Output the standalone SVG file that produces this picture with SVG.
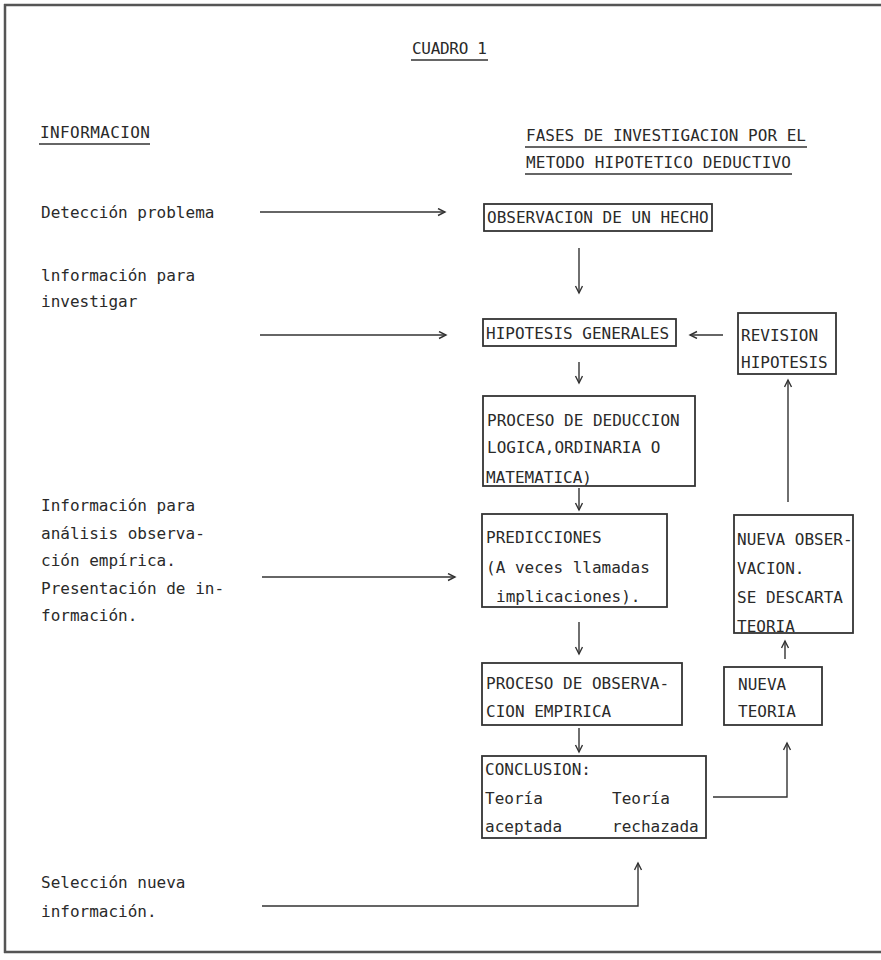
<svg xmlns="http://www.w3.org/2000/svg" width="881" height="960" viewBox="0 0 881 960">
<style>
text{font-family:"DejaVu Sans Mono","Liberation Mono",monospace;font-size:16px;fill:#2a2a2a}
.box{fill:none;stroke:#333;stroke-width:1.8}
.ln{fill:none;stroke:#333;stroke-width:1.4}
.ul{stroke:#333;stroke-width:1.6}
.frame{stroke:#555;stroke-width:2.5}
</style>
<defs>
<marker id="ah" markerWidth="10" markerHeight="10" refX="8" refY="4" orient="auto" markerUnits="userSpaceOnUse">
<path d="M1,0.5 L8,4 L1,7.5" fill="none" stroke="#333" stroke-width="1.4"/>
</marker>
</defs>
<rect x="0" y="0" width="881" height="960" fill="#fff"/>
<g id="frame">
<line class="frame" x1="4" y1="5" x2="881" y2="5"/>
<line class="frame" x1="5" y1="4" x2="5" y2="953"/>
<line class="frame" x1="4" y1="952" x2="881" y2="952"/>
</g>
<g id="titles">
<text x="412" y="54" textLength="75">CUADRO 1</text>
<line class="ul" x1="411" y1="60" x2="488" y2="60"/>
<text x="40" y="138" textLength="110">INFORMACION</text>
<line class="ul" x1="39" y1="144" x2="150" y2="144"/>
<text x="526" y="141" textLength="280">FASES DE INVESTIGACION POR EL</text>
<line class="ul" x1="525" y1="147" x2="807" y2="147"/>
<text x="526" y="168" textLength="265">METODO HIPOTETICO DEDUCTIVO</text>
<line class="ul" x1="525" y1="174" x2="792" y2="174"/>
</g>
<g id="info">
<text x="41" y="218">Detección problema</text>
<text x="41" y="281">lnformación para</text>
<text x="41" y="307">investigar</text>
<text x="41" y="511">Información para</text>
<text x="41" y="539">análisis observa-</text>
<text x="41" y="566">ción empírica.</text>
<text x="41" y="594">Presentación de in-</text>
<text x="41" y="621">formación.</text>
<text x="41" y="888">Selección nueva</text>
<text x="41" y="917">información.</text>
</g>
<g id="n-observacion">
<rect class="box" x="484" y="204" width="228" height="27"/>
<text x="487" y="223">OBSERVACION DE UN HECHO</text>
</g>
<g id="n-hipotesis">
<rect class="box" x="483" y="319" width="193" height="27"/>
<text x="486" y="339">HIPOTESIS GENERALES</text>
</g>
<g id="n-revision">
<rect class="box" x="738" y="313" width="98" height="61"/>
<text x="741" y="341">REVISION</text>
<text x="741" y="368">HIPOTESIS</text>
</g>
<g id="n-deduccion">
<rect class="box" x="483" y="396" width="212" height="90"/>
<text x="487" y="426">PROCESO DE DEDUCCION</text>
<text x="487" y="453">LOGICA,ORDINARIA O</text>
<text x="486" y="483">MATEMATICA)</text>
</g>
<g id="n-predicciones">
<rect class="box" x="482" y="514" width="185" height="93"/>
<text x="486" y="543">PREDICCIONES</text>
<text x="486" y="573">(A veces llamadas</text>
<text x="496" y="602">implicaciones).</text>
</g>
<g id="n-observacion-empirica">
<rect class="box" x="482" y="663" width="200" height="62"/>
<text x="486" y="689">PROCESO DE OBSERVA-</text>
<text x="486" y="717">CION EMPIRICA</text>
</g>
<g id="n-conclusion">
<rect class="box" x="482" y="756" width="224" height="82"/>
<text x="485" y="775">CONCLUSION:</text>
<text x="485" y="804">Teoría</text>
<text x="612" y="804">Teoría</text>
<text x="485" y="832">aceptada</text>
<text x="612" y="832">rechazada</text>
</g>
<g id="n-nueva-observacion">
<rect class="box" x="734" y="515" width="119" height="118"/>
<text x="737" y="545">NUEVA OBSER-</text>
<text x="737" y="574">VACION.</text>
<text x="737" y="603">SE DESCARTA</text>
<text x="737" y="632">TEORIA</text>
</g>
<g id="n-nueva-teoria">
<rect class="box" x="724" y="667" width="98" height="58"/>
<text x="738" y="690">NUEVA</text>
<text x="738" y="717">TEORIA</text>
</g>
<g id="connectors">
<line class="ln" x1="260" y1="212" x2="445" y2="212" marker-end="url(#ah)"/>
<line class="ln" x1="260" y1="335" x2="446" y2="335" marker-end="url(#ah)"/>
<line class="ln" x1="262" y1="577" x2="455" y2="577" marker-end="url(#ah)"/>
<polyline class="ln" points="262,906 638,906 638,863" marker-end="url(#ah)"/>
<line class="ln" x1="579" y1="248" x2="579" y2="293" marker-end="url(#ah)"/>
<line class="ln" x1="579" y1="362" x2="579" y2="383" marker-end="url(#ah)"/>
<line class="ln" x1="579" y1="488" x2="579" y2="510" marker-end="url(#ah)"/>
<line class="ln" x1="579" y1="622" x2="579" y2="654" marker-end="url(#ah)"/>
<line class="ln" x1="579" y1="728" x2="579" y2="752" marker-end="url(#ah)"/>
<line class="ln" x1="723" y1="335" x2="690" y2="335" marker-end="url(#ah)"/>
<line class="ln" x1="788" y1="502" x2="788" y2="380" marker-end="url(#ah)"/>
<line class="ln" x1="785" y1="659" x2="785" y2="641" marker-end="url(#ah)"/>
<polyline class="ln" points="713,797 787,797 787,743" marker-end="url(#ah)"/>
</g>
</svg>
